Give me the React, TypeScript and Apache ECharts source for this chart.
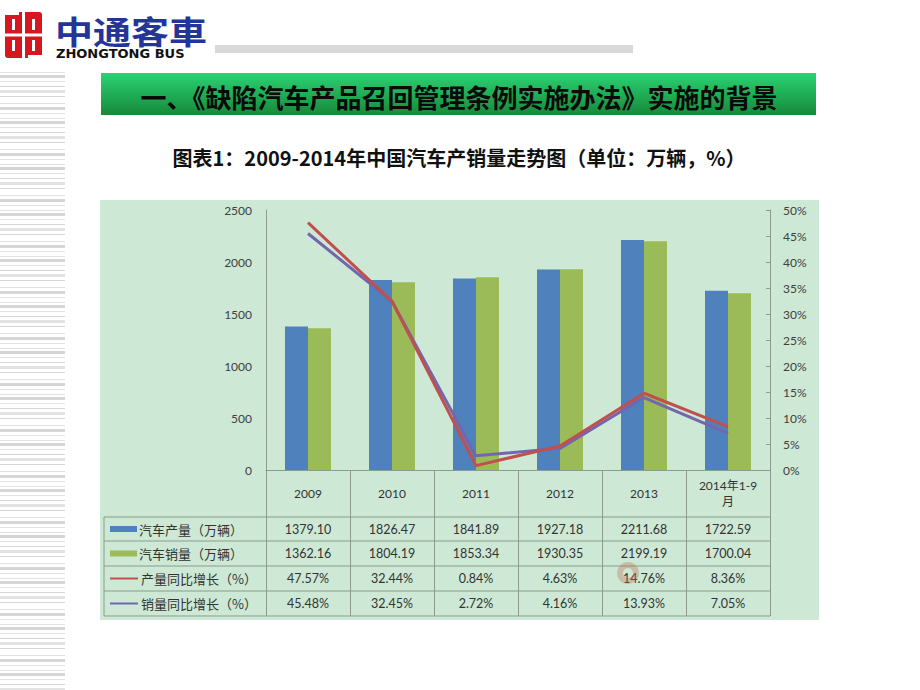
import React, { useEffect, useRef } from 'react';
import * as echarts from 'echarts';

// ---- data ----
const categories = ['2009', '2010', '2011', '2012', '2013', '2014年1-9\n月'];
const production = [1379.1, 1826.47, 1841.89, 1927.18, 2211.68, 1722.59];
const sales = [1362.16, 1804.19, 1853.34, 1930.35, 2199.19, 1700.04];
const productionGrowth = [47.57, 32.44, 0.84, 4.63, 14.76, 8.36];
const salesGrowth = [45.48, 32.45, 2.72, 4.16, 13.93, 7.05];
const rowNames = ['汽车产量（万辆）', '汽车销量（万辆）', '产量同比增长（%）', '销量同比增长（%）'];
const leftAxis = { min: 0, max: 2500, interval: 500 };
const rightAxis = { min: 0, max: 50, interval: 5 };

const pageTitle = '一、《缺陷汽车产品召回管理条例实施办法》实施的背景';
const chartTitle = '图表1：2009-2014年中国汽车产销量走势图（单位：万辆，%）';

// ---- layout / style ----
const BLUE = '#4f81bd';
const GREEN = '#9bbb59';
const RED = '#c0504d';
const PURPLE = '#7466ad';
const GRID_L = 266;
const GRID_R = 770;
const GRID_T = 210;
const GRID_B = 470;
const ROW_LINES = [517, 541, 566, 591, 616];
const TABLE_L = 104;
const NUM_FONT = 'Lato, "Noto Sans CJK SC", sans-serif';

const stripePattern = [0, 3, 9, 14, 18, 24, 31, 35, 41];

export default function App() {
  const ref = useRef<HTMLDivElement>(null);

  useEffect(() => {
    if (!ref.current) return;
    const chart = echarts.init(ref.current, null, { renderer: 'svg' });

    const graphics: any[] = [];

    // left decorative stripes
    for (let block = 72; block < 690; block += 46) {
      stripePattern.forEach((o, i) => {
        const y = block + o;
        if (y > 688) return;
        graphics.push({
          type: 'rect',
          z: -20,
          shape: { x: 0, y, width: 65, height: i % 3 === 1 ? 3 : 1 },
          style: { fill: i % 2 === 0 ? '#e3e3e3' : '#d6d6d6' },
          silent: true,
        });
      });
    }

    // logo
    graphics.push({
      type: 'group',
      x: 5,
      y: 12,
      children: [
        { type: 'rect', shape: { x: 0, y: 0, width: 37, height: 46, r: 3 }, style: { fill: '#d6171f' } },
        { type: 'rect', shape: { x: 17, y: 0, width: 3, height: 46 }, style: { fill: '#fff' } },
        { type: 'rect', shape: { x: 0, y: 21.5, width: 37, height: 3 }, style: { fill: '#fff' } },
        { type: 'rect', shape: { x: 7, y: 7, width: 3, height: 11 }, style: { fill: '#fff' } },
        { type: 'rect', shape: { x: 27, y: 7, width: 3, height: 11 }, style: { fill: '#fff' } },
        { type: 'rect', shape: { x: 7, y: 28, width: 3, height: 11 }, style: { fill: '#fff' } },
        { type: 'rect', shape: { x: 27, y: 28, width: 3, height: 11 }, style: { fill: '#fff' } },
        { type: 'rect', shape: { x: 0, y: 0, width: 14, height: 3 }, style: { fill: '#fff' } },
        { type: 'rect', shape: { x: 23, y: 43, width: 14, height: 3 }, style: { fill: '#fff' } },
      ],
    });
    graphics.push({
      type: 'text',
      x: 55,
      y: 30,
      scaleY: 0.85,
      style: {
        text: '中通客車',
        font: 'bold 38px "Noto Sans CJK SC", sans-serif',
        fill: '#23349a',
        verticalAlign: 'middle',
        align: 'left',
      },
    });
    graphics.push({
      type: 'text',
      x: 56,
      y: 53,
      style: {
        text: 'ZHONGTONG BUS',
        font: 'bold 13px "DejaVu Sans", sans-serif',
        fill: '#111',
        verticalAlign: 'middle',
        align: 'left',
      },
    });
    graphics.push({
      type: 'rect',
      shape: { x: 215, y: 45, width: 418, height: 8 },
      style: { fill: '#d9d9d9' },
    });

    // title bar
    graphics.push({
      type: 'rect',
      shape: { x: 101, y: 73, width: 715, height: 42 },
      style: {
        fill: new echarts.graphic.LinearGradient(0, 0, 0, 1, [
          { offset: 0, color: '#2bd273' },
          { offset: 1, color: '#168a3a' },
        ]),
      },
    });
    graphics.push({
      type: 'text',
      x: 459,
      y: 96,
      style: {
        text: pageTitle,
        font: 'bold 26px "Noto Sans CJK SC", sans-serif',
        fill: '#0a0a0a',
        align: 'center',
        verticalAlign: 'middle',
      },
    });
    graphics.push({
      type: 'text',
      x: 459,
      y: 157,
      style: {
        text: chartTitle,
        font: 'bold 20px "Noto Sans CJK SC", sans-serif',
        fill: '#111',
        align: 'center',
        verticalAlign: 'middle',
      },
    });

    // chart panel
    graphics.push({
      type: 'rect',
      z: -10,
      shape: { x: 100, y: 200, width: 719, height: 420 },
      style: { fill: '#cde8d5' },
    });

    // table horizontal lines
    ROW_LINES.forEach((y) => {
      graphics.push({
        type: 'line',
        z: 5,
        shape: { x1: TABLE_L, y1: y, x2: GRID_R, y2: y },
        style: { stroke: '#8c9a90', lineWidth: 1 },
      });
    });
    graphics.push({
      type: 'line',
      z: 5,
      shape: { x1: TABLE_L, y1: ROW_LINES[0], x2: TABLE_L, y2: ROW_LINES[ROW_LINES.length - 1] },
      style: { stroke: '#8c9a90', lineWidth: 1 },
    });

    // legend cells
    const swatchColors = [BLUE, GREEN, RED, PURPLE];
    rowNames.forEach((name, i) => {
      const cy = (ROW_LINES[i] + ROW_LINES[i + 1]) / 2;
      if (i < 2) {
        graphics.push({
          type: 'rect',
          z: 6,
          shape: { x: 110, y: cy - 3, width: 27, height: 6 },
          style: { fill: swatchColors[i] },
        });
      } else {
        graphics.push({
          type: 'line',
          z: 6,
          shape: { x1: 110, y1: cy, x2: 138, y2: cy },
          style: { stroke: swatchColors[i], lineWidth: 2 },
        });
      }
      graphics.push({
        type: 'text',
        z: 6,
        x: i < 2 ? 139 : 141,
        y: cy,
        style: {
          text: name,
          font: '13px "Noto Sans CJK SC", sans-serif',
          fill: '#333',
          align: 'left',
          verticalAlign: 'middle',
        },
      });
    });

    // faint watermark emblem
    graphics.push({
      type: 'ring',
      z: 50,
      silent: true,
      shape: { cx: 628, cy: 573, r: 11, r0: 5 },
      style: { fill: 'rgba(190,110,80,0.35)' },
    });

    const tableRows = [
      production.map((v) => v.toFixed(2)),
      sales.map((v) => v.toFixed(2)),
      productionGrowth.map((v) => v.toFixed(2) + '%'),
      salesGrowth.map((v) => v.toFixed(2) + '%'),
    ];

    const rowAxes = tableRows.map((row, i) => ({
      type: 'category',
      gridIndex: 0,
      position: 'bottom',
      offset: 0,
      data: categories,
      axisLine: { show: false },
      axisTick: { show: false },
      splitLine: { show: false },
      axisLabel: {
        interval: 0,
        margin: (ROW_LINES[i] + ROW_LINES[i + 1]) / 2 - GRID_B,
        verticalAlign: 'middle',
        fontFamily: NUM_FONT,
        fontSize: 12.5,
        color: '#333',
        formatter: (_v: string, idx: number) => row[idx],
      },
    }));

    chart.setOption({
      animation: false,
      backgroundColor: '#ffffff',
      textStyle: { fontFamily: NUM_FONT },
      grid: {
        left: GRID_L,
        right: 920 - GRID_R,
        top: GRID_T,
        bottom: 690 - GRID_B,
        containLabel: false,
      },
      graphic: graphics,
      xAxis: [
        {
          type: 'category',
          position: 'bottom',
          data: categories,
          boundaryGap: true,
          axisLine: { show: true, lineStyle: { color: '#8c9a90', width: 1 } },
          axisTick: {
            show: true,
            inside: false,
            length: ROW_LINES[ROW_LINES.length - 1] - GRID_B,
            alignWithLabel: false,
            lineStyle: { color: '#8c9a90', width: 1 },
          },
          axisLabel: {
            interval: 0,
            margin: (GRID_B + ROW_LINES[0]) / 2 - GRID_B,
            verticalAlign: 'middle',
            lineHeight: 16,
            fontFamily: NUM_FONT,
            fontSize: 12,
            color: '#333',
          },
          splitLine: { show: false },
        },
        ...rowAxes,
      ],
      yAxis: [
        {
          type: 'value',
          min: leftAxis.min,
          max: leftAxis.max,
          interval: leftAxis.interval,
          axisLine: { show: true, lineStyle: { color: '#8c9a90' } },
          axisTick: { show: false },
          splitLine: { show: false },
          axisLabel: {
            margin: 14,
            fontFamily: NUM_FONT,
            fontSize: 12,
            color: '#404040',
            formatter: (v: number) => String(v),
          },
        },
        {
          type: 'value',
          position: 'right',
          min: rightAxis.min,
          max: rightAxis.max,
          interval: rightAxis.interval,
          axisLine: { show: true, lineStyle: { color: '#8c9a90' } },
          axisTick: { show: true, inside: true, length: 4, lineStyle: { color: '#8c9a90' } },
          splitLine: { show: false },
          axisLabel: {
            margin: 13,
            fontFamily: NUM_FONT,
            fontSize: 12,
            color: '#404040',
            formatter: '{value}%',
          },
        },
      ],
      series: [
        {
          name: rowNames[0],
          type: 'bar',
          xAxisIndex: 0,
          yAxisIndex: 0,
          data: production,
          barWidth: 23,
          barGap: '0%',
          itemStyle: { color: BLUE },
        },
        {
          name: rowNames[1],
          type: 'bar',
          xAxisIndex: 0,
          yAxisIndex: 0,
          data: sales,
          barWidth: 23,
          barGap: '0%',
          itemStyle: { color: GREEN },
        },
        {
          name: rowNames[3],
          type: 'line',
          xAxisIndex: 0,
          yAxisIndex: 1,
          data: salesGrowth,
          showSymbol: false,
          symbol: 'none',
          lineStyle: { color: PURPLE, width: 3 },
          itemStyle: { color: PURPLE },
          z: 3,
        },
        {
          name: rowNames[2],
          type: 'line',
          xAxisIndex: 0,
          yAxisIndex: 1,
          data: productionGrowth,
          showSymbol: false,
          symbol: 'none',
          lineStyle: { color: RED, width: 3 },
          itemStyle: { color: RED },
          z: 4,
        },
      ],
    });

    return () => {
      chart.dispose();
    };
  }, []);

  return (
    <div
      ref={ref}
      style={{ position: 'absolute', left: 0, top: 0, width: 920, height: 690, background: '#fff' }}
    />
  );
}
